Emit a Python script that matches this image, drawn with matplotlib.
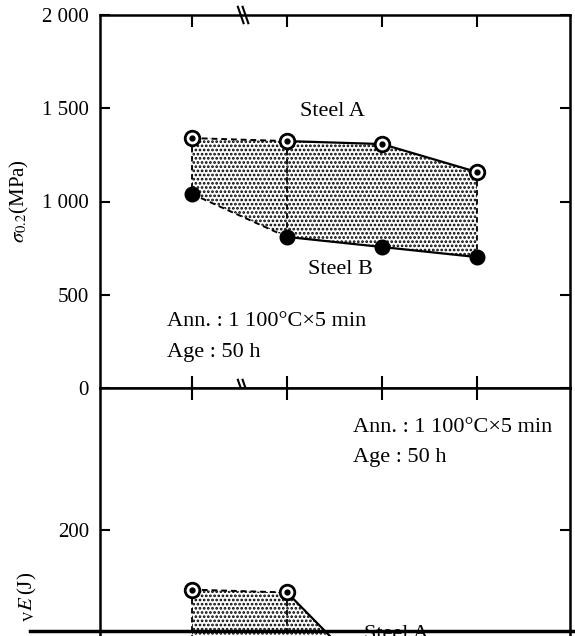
import matplotlib
matplotlib.use("Agg")
import matplotlib.pyplot as plt
from matplotlib.lines import Line2D

plt.rcParams["font.family"] = ["Liberation Serif", "DejaVu Serif"]
plt.rcParams["mathtext.fontset"] = "stix"
plt.rcParams["hatch.linewidth"] = 1.3

# aging conditions (x labels are not visible in the crop)
x_pos = [0, 1, 2, 3]

# 0.2% proof stress (MPa)
sigma_A = [1340, 1324, 1308, 1158]
sigma_B = [1040, 810, 756, 702]

# impact energy vE (J) - lower part of the figure is cut off
ve_A = [158, 156, 88, 76]
ve_B = [112, 70, 52, 44]

sigma_ticks = [0, 500, 1000, 1500, 2000]
sigma_labels = ["0", "500", "1 000", "1 500", "2 000"]
ve_ticks = [0, 100, 200]
ve_labels = ["0", "100", "200"]

FS = 15    # tick labels
TFS = 16   # annotations

fig = plt.figure(figsize=(5.75, 6.36), dpi=100)
ax1 = fig.add_axes([100 / 575, 1 - 388 / 636, 470 / 575, 373 / 636])
ax2 = fig.add_axes([100 / 575, 1 - 814 / 636, 470 / 575, 426 / 636])


def draw_band(ax, ya, yb):
    ax.fill_between(x_pos, ya, yb, facecolor="white", edgecolor="black",
                    hatch="....", linewidth=0)
    ax.plot(x_pos[:2], ya[:2], "k--", lw=1.4, dashes=(3, 2))
    ax.plot(x_pos[1:], ya[1:], "k-", lw=1.6)
    ax.plot(x_pos[:2], yb[:2], "k--", lw=1.4, dashes=(3, 2))
    ax.plot(x_pos[1:], yb[1:], "k-", lw=1.6)
    for i in [0, 1, 3]:
        ax.plot([x_pos[i], x_pos[i]], [ya[i], yb[i]], "k--", lw=1.3, dashes=(3, 2))
    ax.plot(x_pos, ya, "o", ms=10.5, mfc="white", mec="black", mew=2.0)
    ax.plot(x_pos, ya, "o", ms=3.5, color="black")
    ax.plot(x_pos, yb, "o", ms=10.5, color="black")


def break_mark(ax, yax):
    tr = ax.get_xaxis_transform()
    for dx in [-0.025, 0.025]:
        x0 = 0.537 + dx
        ax.plot([x0 - 0.03, x0 + 0.03], [yax + 0.022, yax - 0.022],
                color="black", lw=1.5, transform=tr, clip_on=False)


draw_band(ax1, sigma_A, sigma_B)
draw_band(ax2, ve_A, ve_B)

for ax in (ax1, ax2):
    ax.set_xlim(-0.97, 3.98)
    ax.set_xticks(x_pos)
    ax.set_xticklabels([])
    for s in ax.spines.values():
        s.set_linewidth(1.8)
    ax.tick_params(axis="both", direction="in", width=1.5, length=7,
                   labelsize=FS, pad=8)
    ax.tick_params(axis="x", top=True, bottom=True, length=8.5)
    ax.tick_params(axis="y", left=True, right=True)

ax1.set_ylim(0, 2000)
ax1.set_yticks(sigma_ticks)
ax1.set_yticklabels(sigma_labels)
ax1.set_ylabel(r"$\sigma_{0.2}$(MPa)", fontsize=FS, labelpad=8)
break_mark(ax1, 1.0)
break_mark(ax1, 0.0)

ax2.set_ylim(0, 300)
ax2.set_yticks(ve_ticks)
ax2.set_yticklabels(ve_labels)

ax1.text(1.48, 1485, "Steel A", fontsize=TFS, ha="center", va="center")
ax1.text(1.56, 638, "Steel B", fontsize=TFS, ha="center", va="center")
ax1.text(-0.26, 354, "Ann. : 1 100°C×5 min", fontsize=TFS, ha="left", va="center")
ax1.text(-0.26, 188, "Age : 50 h", fontsize=TFS, ha="left", va="center")

ax2.text(1.69, 272, "Ann. : 1 100°C×5 min", fontsize=TFS, ha="left", va="center")
ax2.text(1.69, 251, "Age : 50 h", fontsize=TFS, ha="left", va="center")
ax2.text(2.15, 133, "Steel A", fontsize=TFS, ha="center", va="top")

fig.text(27 / 575, 1 - 572 / 636, r"${}_{\mathrm{V}}E\,$(J)", fontsize=FS,
         rotation=90, ha="center", va="top")
fig.add_artist(Line2D([30 / 575, 1.0], [1 - 631 / 636, 1 - 631 / 636],
                      color="black", lw=2.5))

fig.savefig("out.png", dpi=100)
